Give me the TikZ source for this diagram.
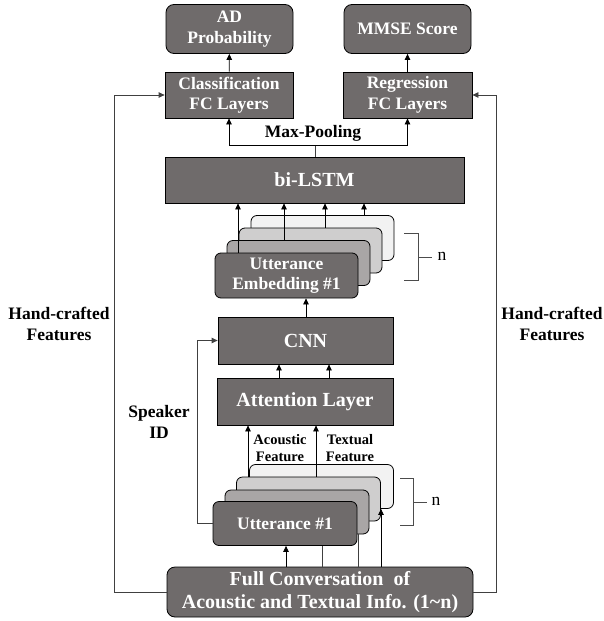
\documentclass[tikz,border=0pt]{standalone}
\usepackage{fontspec}
\setmainfont{Liberation Serif}
\usetikzlibrary{arrows.meta}
\definecolor{boxgray}{HTML}{6F6B6B}
\definecolor{stackA}{HTML}{A9A6A6}
\definecolor{stackB}{HTML}{CFCECE}
\definecolor{stackC}{HTML}{F2F2F2}
\begin{document}
\begin{tikzpicture}
		[x=1pt,y=-1pt,
		box/.style={draw=black,line width=0.8pt,fill=boxgray,text=white,
			font=\fontsize{17.5}{20.5}\selectfont\bfseries,align=center,inner sep=0pt},
		bigbox/.style={box,font=\fontsize{20}{23}\selectfont\bfseries},
		rbox/.style={box,rounded corners=8pt},
		stackbox/.style={draw=black,line width=0.8pt,rounded corners=6pt,
			minimum width=143pt,minimum height=45pt,inner sep=0pt,text=white,
			font=\fontsize{17.5}{20.5}\selectfont\bfseries,align=center},
		lbl/.style={font=\fontsize{17.5}{21.5}\selectfont\bfseries,align=center},
		small/.style={font=\fontsize{14.5}{17}\selectfont\bfseries,align=center},
		arr/.style={-{Triangle[length=6pt,width=5.5pt]},line width=0.8pt},
		ln/.style={line width=0.8pt,draw=black!75},
		brk/.style={line width=0.7pt,draw=black!70}]
		\useasboundingbox (0,0) rectangle (603,621);
		% outputs
		\node[rbox,minimum width=127pt,minimum height=49pt] (ad) at (229.5,29) {AD\\Probability};
		\node[rbox,minimum width=127pt,minimum height=49pt] (mmse) at (407.5,29) {MMSE Score};
		\node[box,minimum width=128pt,minimum height=46pt] (cls) at (229,95) {Classification\\FC Layers};
		\node[box,minimum width=129pt,minimum height=46pt] (reg) at (407.5,95) {Regression\\FC Layers};
		\draw[arr] (cls) -- (ad);
		\draw[arr] (reg) -- (mmse);
		% bi-LSTM and max-pooling
		\node[bigbox,minimum width=299pt,minimum height=46pt] (lstm) at (314.5,180) {bi-LSTM};
		\coordinate (mp) at (315,145);
		\node[lbl] (maxpool) at (313,133) {Max-Pooling};
		\draw[ln] (lstm.north -| mp) -- (mp);
		\draw[arr] (mp) -| (cls.south);
		\draw[arr] (mp) -| (reg.south);
		% utterance embeddings
		\node[stackbox,fill=stackC] (emb4) at (322.5,238) {};
		\node[stackbox,fill=stackB] (emb3) at (310.5,250.5) {};
		\node[stackbox,fill=stackA] (emb2) at (298.5,263) {};
		\node[stackbox,fill=boxgray] (emb1) at (286.5,275.5) {Utterance\\Embedding \#1};
		\draw[arr] (emb1.north -| 238,0) -- (lstm.south -| 238,0);
		\draw[arr] (emb2.north -| 284,0) -- (lstm.south -| 284,0);
		\draw[arr] (emb3.north -| 325,0) -- (lstm.south -| 325,0);
		\draw[arr] (emb4.north -| 364,0) -- (lstm.south -| 364,0);
		\draw[brk] (404,233) -- (418,233) -- (418,280) -- (404,280);
		\draw[brk] (418,257) -- (432,257);
		\node[font=\fontsize{17.5}{20}\selectfont,anchor=west] (n1) at (434,256) {n};
		% CNN and attention
		\node[bigbox,minimum width=175pt,minimum height=47pt] (cnn) at (305.5,340.5) {CNN};
		\node[bigbox,minimum width=176pt,minimum height=47pt] (att) at (305,401.5) {Attention Layer};
		\draw[arr] (cnn.north -| 306,0) -- (emb1.south -| 306,0);
		\draw[arr] (att.north -| 279,0) -- (cnn.south -| 279,0);
		\draw[arr] (att.north -| 329,0) -- (cnn.south -| 329,0);
		% full conversation
		\node[bigbox,rounded corners=8pt,minimum width=306pt,minimum height=50pt] (conv) at (320,592)
			{Full Conversation\ \ of\\Acoustic and Textual Info. (1\textasciitilde n)};
		% utterances (links drawn first, behind the boxes)
		\coordinate (u1) at (286,0);
		\coordinate (u2) at (322,0);
		\coordinate (u3) at (358,0);
		\coordinate (u4) at (381,0);
		\node[stackbox,fill=stackC,minimum width=144pt,minimum height=44pt] (utt4) at (321.5,486.5) {};
		\node[stackbox,fill=stackB,minimum width=144pt,minimum height=44pt] (utt3) at (308.5,499) {};
		\node[stackbox,fill=stackA,minimum width=144pt,minimum height=44pt] (utt2) at (297,512) {};
		\draw[arr] (conv.north -| u4) -- (utt4.south -| u4);
		\draw[ln] (conv.north -| u3) -- (utt2.south -| u3);
		\node[stackbox,fill=boxgray,minimum width=144pt,minimum height=44pt] (utt1) at (285,523.5) {Utterance \#1};
		\draw[ln] (conv.north -| u2) -- (utt1.south -| u2);
		\draw[arr] (conv.north -| u1) -- (utt1.south -| u1);
		\draw[brk] (400,478) -- (413,478) -- (413,525) -- (400,525);
		\draw[brk] (413,502) -- (427,502);
		\node[font=\fontsize{17.5}{20}\selectfont,anchor=west] (n2) at (428,501) {n};
		\draw[arr] (utt3.north -| 248,0) -- (att.south -| 248,0);
		\draw[arr] (utt3.north -| 316,0) -- (att.south -| 316,0);
		\node[small] (acoustic) at (280,448) {Acoustic\\Feature};
		\node[small] (textual) at (350,448) {Textual\\Feature};
		% speaker ID
		\coordinate (spk) at (197,0);
		\draw[arr,ln] (utt1.west) -| (spk |- cnn.west) -- (cnn.west);
		\node[lbl] (speaker) at (159,422) {Speaker\\ID};
		% hand-crafted features
		\coordinate (hl) at (114,0);
		\coordinate (hr) at (496,0);
		\draw[arr,ln] (conv.west) -| (hl |- cls.west) -- (cls.west);
		\draw[arr,ln] (conv.east) -| (hr |- reg.east) -- (reg.east);
		\node[lbl] (hcl) at (59,324) {Hand-crafted\\Features};
		\node[lbl] (hcr) at (552,324) {Hand-crafted\\Features};
	\end{tikzpicture}
\end{document}
